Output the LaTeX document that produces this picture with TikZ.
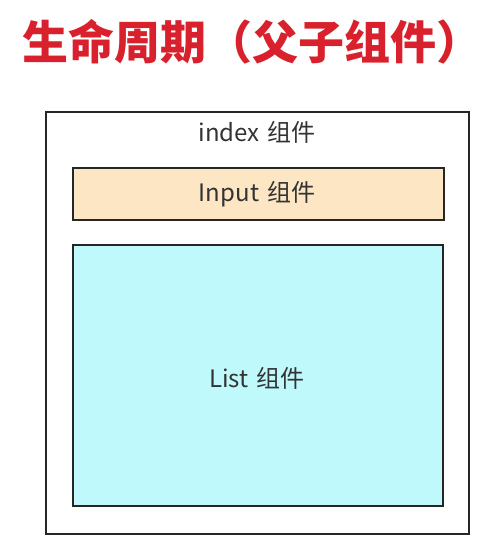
\documentclass[tikz,border=0pt]{standalone}
\usepackage{fontspec}
\newfontfamily\cjk{Noto Sans CJK SC}
\definecolor{titlered}{HTML}{D9212E}
\definecolor{inputfill}{HTML}{FCE6C3}
\definecolor{listfill}{HTML}{C0F9FC}
\definecolor{labelgray}{HTML}{333333}
\begin{document}
\begin{tikzpicture}[x=1pt,y=-1pt,
	box/.style={draw=black!85,line width=2pt,rectangle,inner sep=0pt},
	label/.style={font=\cjk\fontsize{24}{28}\selectfont,text=labelgray}]

	\useasboundingbox (0,0) rectangle (502,552);

	\node[font=\cjk\bfseries\fontsize{46}{50}\selectfont,text=titlered] (title) at (253,42) {生命周期（父子组件）};

	\node[box,minimum width=423pt,minimum height=422pt] (index) at (257.5,323) {};
	\node[box,fill=inputfill,minimum width=371pt,minimum height=52pt] (input) at (258.5,194) {};
	\node[box,fill=listfill,minimum width=370pt,minimum height=261pt] (list) at (258,375.5) {};

	\node[label] (index-label) at (257,132) {index\,\,组件};
	\node[label] (input-label) at (257,194) {Input\,\,组件};
	\node[label] (list-label) at (257,378) {List\,\,组件};

\end{tikzpicture}
\end{document}
